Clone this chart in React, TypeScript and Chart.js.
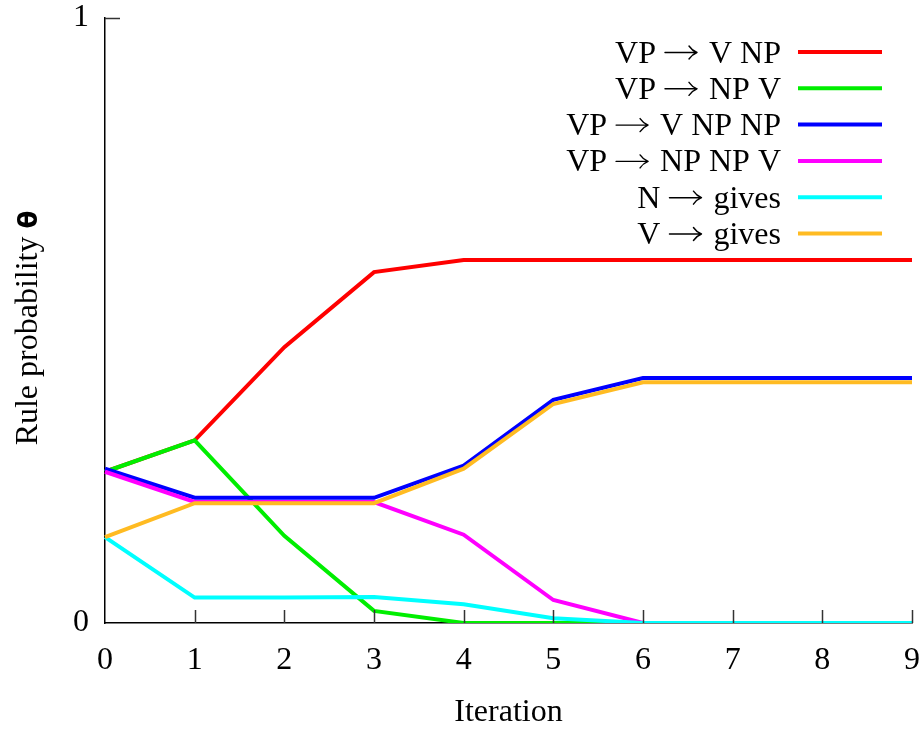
import React, { useEffect, useRef } from "react";
import { Chart, registerables } from "chart.js";

Chart.register(...registerables);

const iterations = ["0", "1", "2", "3", "4", "5", "6", "7", "8", "9"];
const seriesNames = [
  "VP \u2192 V NP",
  "VP \u2192 NP V",
  "VP \u2192 V NP NP",
  "VP \u2192 NP NP V",
  "N \u2192 gives",
  "V \u2192 gives",
];
const vpVNp = [0.25, 0.302, 0.456, 0.58, 0.6, 0.6, 0.6, 0.6, 0.6, 0.6];
const vpNpV = [0.25, 0.302, 0.144, 0.02, 0, 0, 0, 0, 0, 0];
const vpVNpNp = [0.255, 0.207, 0.207, 0.207, 0.26, 0.369, 0.405, 0.405, 0.405, 0.405];
const vpNpNpV = [0.25, 0.2, 0.2, 0.2, 0.146, 0.038, 0, 0, 0, 0];
const nGives = [0.142, 0.042, 0.042, 0.043, 0.031, 0.008, 0, 0, 0, 0];
const vGives = [0.142, 0.198, 0.198, 0.198, 0.255, 0.362, 0.398, 0.398, 0.398, 0.398];
const yTicks = [0, 1];

const seriesValues = [vpVNp, vpNpV, vpVNpNp, vpNpNpV, nGives, vGives];
const colors = ["#ff0000", "#00ee00", "#0000ff", "#ff00ff", "#00ffff", "#ffbb22"];

const SERIF = "'Liberation Serif', 'DejaVu Serif', serif";
const FONT_SIZE = 32;
const ARROW_GAP_L = 9;
const ARROW_LEN = 32;
const ARROW_GAP_R = 12;

function drawArrow(ctx: any, x0: number, yy: number) {
  const x1 = x0 + ARROW_LEN;
  ctx.save();
  ctx.strokeStyle = "#000";
  ctx.lineWidth = 1.4;
  ctx.lineCap = "round";
  ctx.beginPath();
  ctx.moveTo(x0, yy);
  ctx.lineTo(x1, yy);
  ctx.moveTo(x1, yy);
  ctx.quadraticCurveTo(x1 - 5, yy - 2, x1 - 8, yy - 6.5);
  ctx.moveTo(x1, yy);
  ctx.quadraticCurveTo(x1 - 5, yy + 2, x1 - 8, yy + 6.5);
  ctx.stroke();
  ctx.restore();
}

function drawRuleRight(ctx: any, text: string, right: number, ly: number) {
  const [lhs, rhs] = text.split("\u2192").map((s) => s.trim());
  ctx.font = `${FONT_SIZE}px ${SERIF}`;
  const wl = ctx.measureText(lhs).width;
  const wr = ctx.measureText(rhs).width;
  const total = wl + ARROW_GAP_L + ARROW_LEN + ARROW_GAP_R + wr;
  const start = right - total;
  const base = ly + 10.5;
  ctx.textAlign = "left";
  ctx.textBaseline = "alphabetic";
  ctx.fillStyle = "#000";
  ctx.fillText(lhs, start, base);
  drawArrow(ctx, start + wl + ARROW_GAP_L, ly + 0.5);
  ctx.fillText(rhs, start + wl + ARROW_GAP_L + ARROW_LEN + ARROW_GAP_R, base);
}

const decor = {
  id: "decor",
  afterDraw(chart: any) {
    const { ctx, chartArea, scales } = chart;
    const x = scales.x;
    const y = scales.y;
    ctx.save();
    // tick marks (inward)
    ctx.strokeStyle = "#333";
    ctx.lineWidth = 1.5;
    for (let i = 1; i < iterations.length; i++) {
      const px = Math.round(x.getPixelForValue(i)) + 0.5;
      ctx.beginPath();
      ctx.moveTo(px, chartArea.bottom);
      ctx.lineTo(px, chartArea.bottom - 13);
      ctx.stroke();
    }
    const py = Math.round(y.getPixelForValue(1)) + 0.5;
    ctx.beginPath();
    ctx.moveTo(chartArea.left, py);
    ctx.lineTo(chartArea.left + 15, py);
    ctx.stroke();

    // legend
    const legendTop = 52;
    const rowH = 36.3;
    seriesNames.forEach((name, i) => {
      const ly = legendTop + i * rowH;
      drawRuleRight(ctx, name, 781, ly);
      ctx.strokeStyle = colors[i];
      ctx.lineWidth = 4;
      ctx.beginPath();
      ctx.moveTo(798, ly);
      ctx.lineTo(882, ly);
      ctx.stroke();
    });

    // x title
    ctx.fillStyle = "#000";
    ctx.font = `${FONT_SIZE}px ${SERIF}`;
    ctx.textAlign = "center";
    ctx.textBaseline = "alphabetic";
    ctx.fillText("Iteration", (chartArea.left + chartArea.right) / 2, 721);

    // y title
    const part1 = "Rule probability ";
    const part2 = "\u03B8";
    ctx.font = `${FONT_SIZE}px ${SERIF}`;
    const w1 = ctx.measureText(part1).width;
    ctx.font = `bold ${FONT_SIZE - 6}px 'DejaVu Sans', sans-serif`;
    const w2 = ctx.measureText(part2).width;
    const total = w1 + w2;
    ctx.translate(37, 328);
    ctx.rotate(-Math.PI / 2);
    ctx.textAlign = "left";
    ctx.font = `${FONT_SIZE}px ${SERIF}`;
    ctx.fillText(part1, -total / 2, 0);
    ctx.font = `bold ${FONT_SIZE - 6}px 'DejaVu Sans', sans-serif`;
    ctx.fillText(part2, -total / 2 + w1, 0);
    ctx.restore();
  },
};

export default function App() {
  const ref = useRef<HTMLCanvasElement>(null);
  useEffect(() => {
    document.body.style.margin = "0";
    const canvas = ref.current!;
    const order = [6, 5, 4, 3, 2, 1];
    const chart = new Chart(canvas, {
      type: "line",
      data: {
        labels: iterations,
        datasets: seriesValues.map((vals, i) => ({
          label: seriesNames[i],
          data: vals,
          borderColor: colors[i],
          backgroundColor: colors[i],
          borderWidth: 4,
          pointRadius: 0,
          tension: 0,
          fill: false,
          order: order[i],
        })),
      },
      options: {
        animation: false,
        responsive: false,
        devicePixelRatio: 1,
        layout: { padding: { left: 0, right: 12, top: 18, bottom: 0 } },
        plugins: { legend: { display: false }, tooltip: { enabled: false } },
        scales: {
          x: {
            type: "category",
            offset: false,
            grid: { display: false },
            border: { display: true, color: "#000", width: 1.5 },
            ticks: {
              color: "#000",
              font: { family: SERIF, size: FONT_SIZE },
              padding: 10,
              maxRotation: 0,
              autoSkip: false,
            },
            afterFit: (s: any) => {
              s.height = 106;
              s.paddingLeft = 0;
              s.paddingRight = 0;
            },
          },
          y: {
            min: 0,
            max: 1,
            afterBuildTicks: (s: any) => {
              s.ticks = yTicks.map((v) => ({ value: v }));
            },
            grid: { display: false },
            border: { display: true, color: "#000", width: 1.5 },
            ticks: {
              color: "#000",
              font: { family: SERIF, size: FONT_SIZE },
              padding: 8,
              callback: (v: any) => String(v),
            },
            afterFit: (s: any) => {
              s.width = 105;
              s.paddingTop = 0;
              s.paddingBottom = 0;
            },
          },
        },
      },
      plugins: [decor],
    });
    return () => chart.destroy();
  }, []);
  return <canvas ref={ref} width={924} height={729} style={{ display: "block" }} />;
}
